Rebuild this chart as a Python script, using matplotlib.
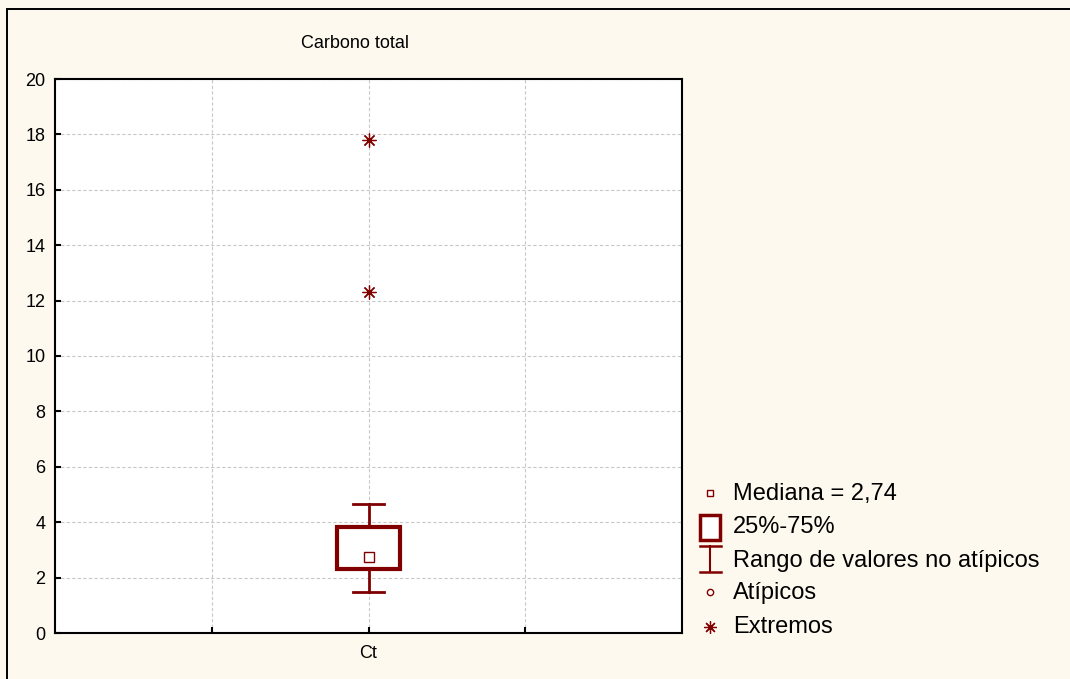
import matplotlib.pyplot as plt
from matplotlib.patches import Rectangle

# datos
categories = ["Ct"]
medians = [2.74]
q25 = [2.31]
q75 = [3.83]
whisker_low = [1.48]
whisker_high = [4.66]
extremes = [[12.31, 17.8]]
outliers = [[]]

dark_red = "#800000"
bg = "#fef9ee"

plt.rcParams['font.family'] = ['Liberation Sans', 'DejaVu Sans']

fig = plt.figure(figsize=(10.7, 6.79), dpi=100, facecolor=bg)
W, H = 1070, 679
ax = fig.add_axes([55 / W, 1 - 633 / H, 627 / W, (633 - 79) / H])
ax.set_facecolor("white")

pos = [2 + i for i in range(len(categories))]
for i, x in enumerate(pos):
    ax.add_patch(Rectangle((x - 0.2, q25[i]), 0.4, q75[i] - q25[i],
                           facecolor="white", edgecolor=dark_red, lw=3, zorder=3))
    ax.plot([x, x], [q75[i], whisker_high[i]], color=dark_red, lw=2, zorder=3)
    ax.plot([x, x], [whisker_low[i], q25[i]], color=dark_red, lw=2, zorder=3)
    ax.plot([x - 0.1, x + 0.1], [whisker_high[i]] * 2, color=dark_red, lw=2, zorder=3)
    ax.plot([x - 0.1, x + 0.1], [whisker_low[i]] * 2, color=dark_red, lw=2, zorder=3)
    ax.plot([x], [medians[i]], marker="s", ms=6.5, mfc="white", mec=dark_red, mew=1, zorder=4)
    ax.plot([x] * len(extremes[i]), extremes[i], ls="none", marker=(8, 2, 0),
            ms=10, mec=dark_red, mew=0.9, zorder=4)
    if outliers[i]:
        ax.plot([x] * len(outliers[i]), outliers[i], ls="none", marker="o",
                ms=5, mfc="white", mec=dark_red, zorder=4)

ax.set_xlim(0, 4)
ax.set_ylim(0, 20)
ax.set_yticks(range(0, 21, 2))
ax.set_xticks([1, 2, 3])
ax.set_xticklabels(["", categories[0], ""])
ax.tick_params(axis="both", labelsize=13, length=4, direction="in", width=1.5, pad=7)
ax.tick_params(axis="x", pad=9)
ax.grid(True, color="#c8c8c8", ls=(0, (3, 2)), lw=0.8)
for s in ax.spines.values():
    s.set_linewidth(1.5)

fig.text(355 / W, 1 - 43 / H, "Carbono total", ha="center", va="center", fontsize=13)

# borde exterior
fig.patches.append(Rectangle((7 / W, -0.01), 1.1, 1 - 9 / H + 0.01,
                             transform=fig.transFigure, fill=False,
                             edgecolor="black", lw=1.4))

# leyenda manual
lax = fig.add_axes([0, 0, 1, 1])
lax.set_xlim(0, W)
lax.set_ylim(H, 0)
lax.axis("off")
lax.patch.set_alpha(0)
tx = 733
fs = 17
lax.plot([710], [493], marker="s", ms=5, mfc="white", mec=dark_red, mew=1)
lax.text(tx, 494, "Mediana = 2,74", va="center", fontsize=fs)
lax.add_patch(Rectangle((700, 515), 20, 25, facecolor="white", edgecolor=dark_red, lw=2.5))
lax.text(tx, 527, "25%-75%", va="center", fontsize=fs)
lax.plot([710, 710], [546, 572], color=dark_red, lw=1.5)
lax.plot([700, 721], [546, 546], color=dark_red, lw=1.8)
lax.plot([700, 721], [572, 572], color=dark_red, lw=1.8)
lax.text(tx, 561, "Rango de valores no atípicos", va="center", fontsize=fs)
lax.plot([710], [592], marker="o", ms=4.5, mfc="white", mec=dark_red, mew=1)
lax.text(tx, 593, "Atípicos", va="center", fontsize=fs)
lax.plot([710], [627], marker=(8, 2, 0), ms=9, mec=dark_red, mew=0.9)
lax.text(tx, 627, "Extremos", va="center", fontsize=fs)

fig.savefig("out.png", dpi=100, facecolor=bg)
